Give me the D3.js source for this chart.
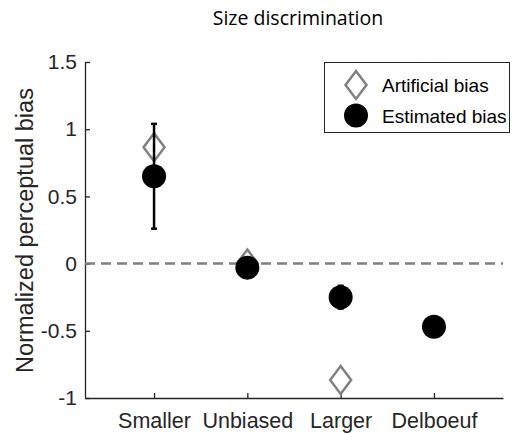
<!DOCTYPE html>
<html>
<head>
<meta charset="utf-8">
<script src="https://cdn.jsdelivr.net/npm/d3@7"></script>
<style>
  body { margin: 0; background: #fff; }
  svg { display: block; }
  text { font-family: "Liberation Sans", Arial, sans-serif; fill: #262626; }
</style>
</head>
<body>
<svg id="chart" width="513" height="434"></svg>
<script>
// Conditions along the x axis
const categories = ["Smaller", "Unbiased", "Larger", "Delboeuf"];
// Bias that was injected for each condition (null = none)
const artificialBias = [0.866, 0, -0.866, null];
// Bias recovered from the responses, with its error half-width
const estimatedBias = [0.65, -0.03, -0.25, -0.47];
const estimatedErr = [0.39, 0.02, 0.085, 0.02];
const yTicks = [-1, -0.5, 0, 0.5, 1, 1.5];
const legendLabels = ["Artificial bias", "Estimated bias"];

const svg = d3.select("#chart");
const margin = { left: 85, right: 10, top: 62, bottom: 36 };
const W = 513, H = 434;

const x = d3.scaleLinear().domain([0.26, 4.74]).range([margin.left, W - margin.right]);
const y = d3.scaleLinear().domain([-1, 1.5]).range([H - margin.bottom, margin.top]);

const axisColor = "#262626";
const gray = "#808080";

// Title
svg.append("text")
  .attr("x", 298).attr("y", 25)
  .attr("text-anchor", "middle")
  .style("font-family", "'Open Sans', sans-serif")
  .style("font-size", "19.5px")
  .style("fill", "#000")
  .text("Size discrimination");

// Y axis (ticks pointing inward)
const yAxis = svg.append("g")
  .attr("transform", `translate(${margin.left},0)`)
  .call(d3.axisLeft(y).tickValues(yTicks).tickSizeInner(-5).tickSizeOuter(0)
    .tickPadding(8).tickFormat(d => String(d)));
yAxis.select(".domain").attr("stroke", axisColor).attr("stroke-width", 1.3);
yAxis.selectAll(".tick line").attr("stroke", axisColor).attr("stroke-width", 1.3);
yAxis.selectAll(".tick text").style("font-size", "21px").attr("fill", axisColor)
  .style("font-family", "'Liberation Sans', Arial, sans-serif");

// X axis (ticks pointing inward)
const xAxis = svg.append("g")
  .attr("transform", `translate(0,${y(-1)})`)
  .call(d3.axisBottom(x).tickValues([1, 2, 3, 4]).tickSizeInner(-5).tickSizeOuter(0)
    .tickPadding(15).tickFormat(d => categories[d - 1]));
xAxis.select(".domain").attr("stroke", axisColor).attr("stroke-width", 1.3);
xAxis.selectAll(".tick line").attr("stroke", axisColor).attr("stroke-width", 1.3);
xAxis.selectAll(".tick text").style("font-size", "21.5px").attr("fill", axisColor)
  .style("font-family", "'Liberation Sans', Arial, sans-serif");

// Y axis label
svg.append("text")
  .attr("transform", `translate(33,230.5) rotate(-90)`)
  .attr("text-anchor", "middle")
  .style("font-size", "23.5px")
  .text("Normalized perceptual bias");

// Zero reference line
svg.append("line")
  .attr("x1", x(0.26)).attr("x2", x(4.74))
  .attr("y1", y(0)).attr("y2", y(0))
  .attr("stroke", gray).attr("stroke-width", 2.5)
  .attr("stroke-dasharray", "10,6");

const diamond = (cx, cy, hw, hh) =>
  `M${cx},${cy - hh}L${cx + hw},${cy}L${cx},${cy + hh}L${cx - hw},${cy}Z`;

// Artificial bias markers
svg.append("g").selectAll("path")
  .data(artificialBias.map((v, i) => ({ v, i })).filter(d => d.v !== null))
  .join("path")
  .attr("d", d => diamond(x(d.i + 1), y(d.v), 10.5, 14))
  .attr("fill", "none").attr("stroke", gray).attr("stroke-width", 2.5);

// Error bars
const eb = svg.append("g").attr("stroke", "#000").attr("stroke-width", 2.5);
estimatedBias.forEach((v, i) => {
  const cx = x(i + 1), e = estimatedErr[i];
  eb.append("line").attr("x1", cx).attr("x2", cx).attr("y1", y(v - e)).attr("y2", y(v + e));
  [v - e, v + e].forEach(t =>
    eb.append("line").attr("x1", cx - 3).attr("x2", cx + 3).attr("y1", y(t)).attr("y2", y(t)));
});

// Estimated bias markers
svg.append("g").selectAll("circle")
  .data(estimatedBias)
  .join("circle")
  .attr("cx", (d, i) => x(i + 1)).attr("cy", d => y(d))
  .attr("r", 12).attr("fill", "#000");

// Legend
const lg = svg.append("g");
lg.append("rect").attr("x", 324.5).attr("y", 62.5).attr("width", 185).attr("height", 70)
  .attr("fill", "#fff").attr("stroke", axisColor).attr("stroke-width", 1);
lg.append("path").attr("d", diamond(356, 85, 10.5, 14))
  .attr("fill", "none").attr("stroke", gray).attr("stroke-width", 2.5);
lg.append("circle").attr("cx", 356).attr("cy", 115.5).attr("r", 12).attr("fill", "#000");
legendLabels.forEach((t, i) => {
  lg.append("text").attr("x", 382).attr("y", 92 + i * 30.7)
    .style("font-size", "19px").style("fill", "#000").text(t);
});
</script>
</body>
</html>
